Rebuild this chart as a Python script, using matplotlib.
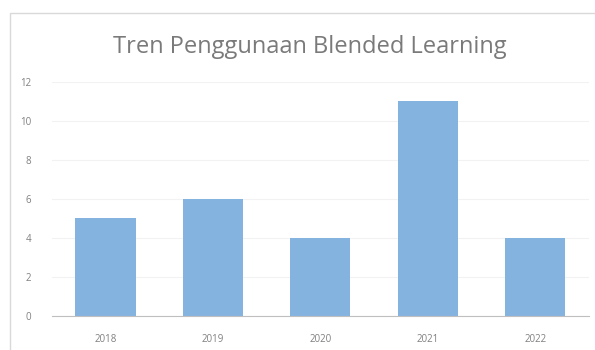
import matplotlib
matplotlib.use("Agg")
import matplotlib.pyplot as plt
from matplotlib.patches import Rectangle

years = ["2018", "2019", "2020", "2021", "2022"]
counts = [5, 6, 4, 11, 4]
y_ticks = [0, 2, 4, 6, 8, 10, 12]

plt.rcParams['font.family'] = ['Open Sans', 'DejaVu Sans']

fig = plt.figure(figsize=(5.95, 3.5), dpi=100)
ax = fig.add_axes([0.087, 0.097, 0.903, 0.669])

# chart frame like the office chart border
fig.patches.append(Rectangle((10 / 595, -0.01), 1.0, 1 - 13 / 350 + 0.01,
                             transform=fig.transFigure, fill=False,
                             edgecolor="#d9d9d9", linewidth=1.0))

ax.bar(range(len(years)), counts, width=0.56, color="#85b3e0", zorder=2)

ax.set_xlim(-0.5, len(years) - 0.5)
ax.set_ylim(0, 12)
ax.set_yticks(y_ticks)
ax.set_xticks(range(len(years)))
ax.set_xticklabels(years)
ax.yaxis.grid(True, color="#f2f2f2", linewidth=0.8, zorder=0)

for side in ["top", "right", "left"]:
    ax.spines[side].set_visible(False)
ax.spines["bottom"].set_color("#bfbfbf")
ax.tick_params(axis="both", length=0, labelsize=7, colors="#808080")
ax.tick_params(axis="x", pad=13)
ax.tick_params(axis="y", pad=15)

fig.text(0.52, 0.866, "Tren Penggunaan Blended Learning", ha="center", va="center",
         fontsize=17, color="#7a7a7a")

fig.savefig("out.png", dpi=100)
